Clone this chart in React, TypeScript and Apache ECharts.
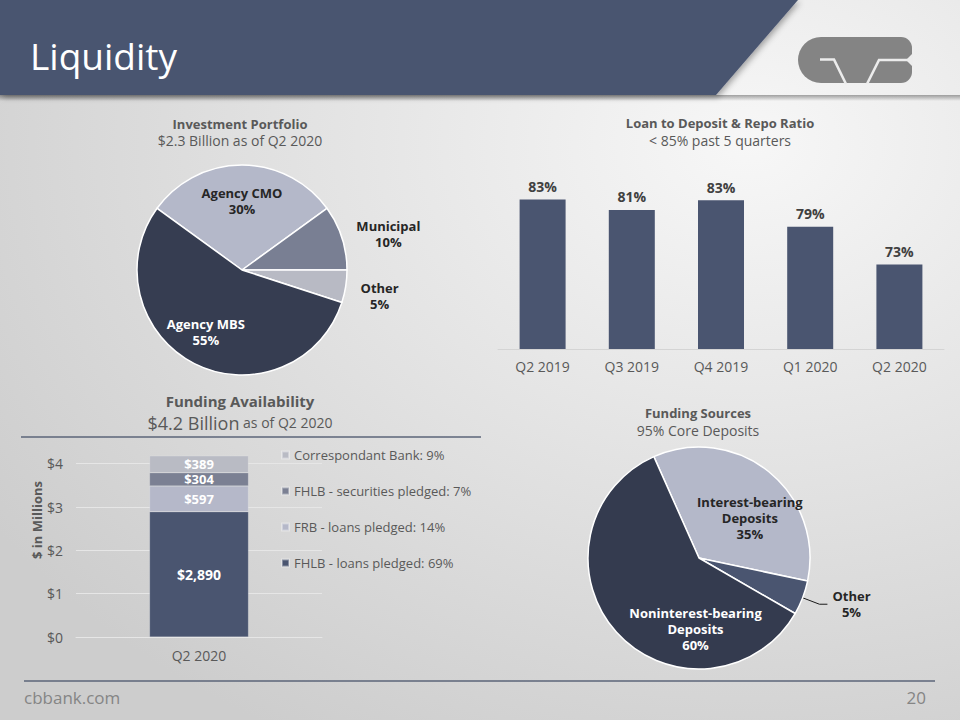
import React, { useEffect, useRef } from 'react';
import * as echarts from 'echarts';

// ---------- data ----------
const portfolioNames = ['Agency CMO', 'Municipal', 'Other', 'Agency MBS'];
const portfolioValues = [30, 10, 5, 55];

const ratioCategories = ['Q2 2019', 'Q3 2019', 'Q4 2019', 'Q1 2020', 'Q2 2020'];
const ratioValues = [83.0, 81.4, 82.9, 78.8, 73.0];

const fundingCategories = ['Q2 2020'];
const fundingNames = ['FHLB - loans pledged', 'FRB - loans pledged', 'FHLB - securities pledged', 'Correspondant Bank'];
const fundingValues = [2890, 597, 304, 389];

const sourcesNames = ['Interest-bearing\nDeposits', 'Other', 'Noninterest-bearing\nDeposits'];
const sourcesValues = [35, 5, 60];

// ---------- style ----------
const FONT = 'Open Sans';
const GRAY = '#595959';
const DARK = '#262626';
const portfolioColors = ['#b4b8c9', '#797f93', '#b8bac4', '#363d51'];
const fundingColors = ['#4a5570', '#b5b8c9', '#7b8093', '#b9bbc4'];
const sourcesColors = ['#b4b8c9', '#4a5570', '#343b4f'];

const richLines = (text: string) =>
  text
    .split('\n')
    .map((l) => `{a|${l}}`)
    .join('\n');

export default function App() {
  const ref = useRef<HTMLDivElement>(null);

  useEffect(() => {
    if (!ref.current) return;
    const chart = echarts.init(ref.current, null, { renderer: 'svg' });

    const total = fundingValues.reduce((a, b) => a + b, 0);
    const legendName = (i: number) => `${fundingNames[i]}: ${Math.round((fundingValues[i] / total) * 100)}%`;

    const fundingSeries = fundingNames.map((n, i) => ({
      type: 'bar',
      name: legendName(i),
      stack: 'funding',
      xAxisIndex: 1,
      yAxisIndex: 1,
      barWidth: 99,
      data: [fundingValues[i]],
      itemStyle: { color: fundingColors[i], borderColor: 'rgba(255,255,255,0.35)', borderWidth: 0.5 },
      label: {
        show: true,
        position: 'inside',
        color: '#ffffff',
        fontFamily: FONT,
        fontWeight: 'bold',
        fontSize: i === 0 ? 14 : 13,
        lineHeight: 12,
        formatter: (p: any) => '$' + Number(p.value).toLocaleString('en-US'),
      },
    }));

    const titleStyle = { fontFamily: FONT, fontSize: 13, fontWeight: 'bold', color: GRAY, lineHeight: 16 };
    const subStyle = { fontFamily: FONT, fontSize: 14, color: GRAY, lineHeight: 17 };

    const option: any = {
      animation: false,
      textStyle: { fontFamily: FONT },
      title: [
        {
          text: 'Investment Portfolio',
          subtext: '$2.3 Billion as of Q2 2020',
          left: 240,
          top: 116,
          textAlign: 'center',
          padding: 0,
          itemGap: 0,
          textStyle: titleStyle,
          subtextStyle: subStyle,
        },
        {
          text: 'Loan to Deposit & Repo Ratio',
          subtext: '< 85% past 5 quarters',
          left: 720,
          top: 115,
          textAlign: 'center',
          padding: 0,
          itemGap: 1,
          textStyle: titleStyle,
          subtextStyle: subStyle,
        },
        {
          text: 'Funding Availability',
          subtext: '{big|$4.2 Billion}{small| as of Q2 2020}',
          left: 240,
          top: 392,
          textAlign: 'center',
          padding: 0,
          itemGap: 2,
          textStyle: { fontFamily: FONT, fontSize: 15, fontWeight: 'bold', color: GRAY, lineHeight: 18 },
          subtextStyle: {
            fontFamily: FONT,
            color: GRAY,
            rich: {
              big: { fontFamily: FONT, fontSize: 18, color: GRAY, lineHeight: 21 },
              small: { fontFamily: FONT, fontSize: 14, color: GRAY, lineHeight: 21 },
            },
          },
        },
        {
          text: 'Funding Sources',
          subtext: '95% Core Deposits',
          left: 698,
          top: 405,
          textAlign: 'center',
          padding: 0,
          itemGap: 1,
          textStyle: titleStyle,
          subtextStyle: subStyle,
        },
      ],
      legend: {
        orient: 'vertical',
        left: 281,
        top: 448,
        padding: 0,
        itemWidth: 7,
        itemHeight: 7,
        itemGap: 22,
        icon: 'rect',
        data: [3, 2, 1, 0].map((i) => legendName(i)),
        textStyle: { fontFamily: FONT, fontSize: 13, color: GRAY, lineHeight: 14 },
      },
      grid: [
        { left: 498, right: 16, top: 186.5, bottom: 371 },
        { left: 76, right: 638, top: 455, bottom: 83 },
      ],
      xAxis: [
        {
          type: 'category',
          gridIndex: 0,
          data: ratioCategories,
          axisTick: { show: false },
          axisLine: { lineStyle: { color: '#d4d4d4', width: 1 } },
          axisLabel: { color: GRAY, fontFamily: FONT, fontSize: 14, margin: 10 },
        },
        {
          type: 'category',
          gridIndex: 1,
          data: fundingCategories,
          axisTick: { show: false },
          axisLine: { lineStyle: { color: '#e6e6e6', width: 1 } },
          axisLabel: { color: GRAY, fontFamily: FONT, fontSize: 14, margin: 11 },
        },
      ],
      yAxis: [
        { type: 'value', gridIndex: 0, min: 60, max: 85, show: false },
        {
          type: 'value',
          gridIndex: 1,
          min: 0,
          max: 4200,
          interval: 1000,
          axisLine: { show: false },
          axisTick: { show: false },
          splitLine: { show: true, showMaxLine: false, lineStyle: { color: '#e6e6e6', width: 1 } },
          axisLabel: {
            color: GRAY,
            fontFamily: FONT,
            fontSize: 14,
            margin: 13,
            showMaxLabel: false,
            formatter: (v: number) => '$' + v / 1000,
          },
        },
      ],
      series: [
        {
          type: 'pie',
          name: 'Investment Portfolio',
          center: [242, 270],
          radius: 105,
          startAngle: 144,
          clockwise: true,
          avoidLabelOverlap: false,
          itemStyle: { borderColor: '#ffffff', borderWidth: 1.5 },
          labelLine: { show: false, length: 10, length2: 0 },
          labelLayout: (p: any) => {
            if (p.dataIndex === 0) return { dy: -14 };
            if (p.dataIndex === 3) return { dx: -11, dy: 13 };
            if (p.dataIndex === 2) return { dy: 8 };
            return {};
          },
          data: portfolioNames.map((n, i) => {
            const inside = i === 0 || i === 3;
            return {
              name: n,
              value: portfolioValues[i],
              itemStyle: { color: portfolioColors[i] },
              label: {
                show: true,
                position: inside ? 'inside' : 'outside',
                formatter: (p: any) => richLines(`${p.name}\n${p.value}%`),
                rich: {
                  a: {
                    fontFamily: FONT,
                    fontSize: 13,
                    fontWeight: 'bold',
                    lineHeight: 16,
                    align: 'center',
                    color: i === 3 ? '#ffffff' : DARK,
                  },
                },
              },
            };
          }),
        },
        {
          type: 'bar',
          name: 'Loan to Deposit & Repo Ratio',
          xAxisIndex: 0,
          yAxisIndex: 0,
          barWidth: 46,
          data: ratioValues,
          itemStyle: { color: '#4a5570' },
          label: {
            show: true,
            position: 'top',
            distance: 6,
            color: '#404040',
            fontFamily: FONT,
            fontWeight: 'bold',
            fontSize: 14,
            formatter: (p: any) => Math.round(p.value) + '%',
          },
        },
        ...fundingSeries,
        {
          type: 'pie',
          name: 'Funding Sources',
          center: [699, 558],
          radius: 111,
          startAngle: 114,
          clockwise: true,
          avoidLabelOverlap: false,
          itemStyle: { borderColor: '#ffffff', borderWidth: 1.5 },
          labelLine: { show: true, length: 18, length2: 8, lineStyle: { color: '#1a1a1a', width: 1 } },
          labelLayout: (p: any) => {
            if (p.dataIndex === 0) return { dx: 14, dy: 5 };
            if (p.dataIndex === 2) return { dx: 40, dy: 32 };
            return {};
          },
          data: sourcesNames.map((n, i) => {
            const inside = i !== 1;
            return {
              name: n,
              value: sourcesValues[i],
              itemStyle: { color: sourcesColors[i] },
              label: {
                show: true,
                position: inside ? 'inside' : 'outside',
                formatter: (p: any) => richLines(`${p.name}\n${p.value}%`),
                rich: {
                  a: {
                    fontFamily: FONT,
                    fontSize: 13,
                    fontWeight: 'bold',
                    lineHeight: 16,
                    align: 'center',
                    color: i === 2 ? '#ffffff' : DARK,
                  },
                },
              },
            };
          }),
        },
      ],
      graphic: [
        {
          type: 'rect',
          z: -10,
          silent: true,
          shape: { x: 0, y: 0, width: 960, height: 720 },
          style: {
            fill: new echarts.graphic.RadialGradient(0.78, 0.2, 0.95, [
              { offset: 0, color: '#f7f7f7' },
              { offset: 1, color: '#cdcdcd' },
            ]),
          },
        },
        {
          type: 'rect',
          z: -9,
          silent: true,
          shape: { x: 0, y: 95, width: 960, height: 6 },
          style: {
            fill: new echarts.graphic.LinearGradient(0, 0, 0, 1, [
              { offset: 0, color: 'rgba(90,90,90,0.55)' },
              { offset: 1, color: 'rgba(90,90,90,0)' },
            ]),
          },
        },
        {
          type: 'polygon',
          z: -8,
          silent: true,
          shape: { points: [[0, 0], [798, 0], [716, 95], [0, 95]] },
          style: {
            fill: '#4a5570',
            shadowBlur: 6,
            shadowColor: 'rgba(0,0,0,0.35)',
            shadowOffsetX: 2,
            shadowOffsetY: 2,
          },
        },
        {
          type: 'text',
          x: 30,
          y: 55,
          silent: true,
          style: {
            text: 'Liquidity',
            fill: '#ffffff',
            fontFamily: FONT,
            fontSize: 37,
            verticalAlign: 'middle',
            align: 'left',
          },
        },
        // logo
        {
          type: 'rect',
          silent: true,
          shape: { x: 798, y: 37, width: 114, height: 46, r: [23, 11, 11, 23] },
          style: { fill: '#848484' },
        },
        {
          type: 'polyline',
          silent: true,
          shape: { points: [[820, 59.5], [834, 59.5], [846, 84]] },
          style: { stroke: '#ececec', lineWidth: 2.6, fill: null },
        },
        {
          type: 'polyline',
          silent: true,
          shape: { points: [[867, 84], [879, 60], [913, 60]] },
          style: { stroke: '#ececec', lineWidth: 2.6, fill: null },
        },
        {
          type: 'polygon',
          silent: true,
          shape: { points: [[913, 53], [906, 60], [913, 67]] },
          style: { fill: '#ececec' },
        },
        // funding availability underline
        {
          type: 'line',
          silent: true,
          shape: { x1: 21, y1: 437, x2: 481, y2: 437 },
          style: { stroke: '#5b6478', lineWidth: 1.5 },
        },
        {
          type: 'text',
          x: 37,
          y: 520,
          rotation: Math.PI / 2,
          silent: true,
          style: {
            text: '$ in Millions',
            fill: GRAY,
            fontFamily: FONT,
            fontSize: 13,
            fontWeight: 'bold',
            align: 'center',
            verticalAlign: 'middle',
          },
        },
        // footer
        {
          type: 'line',
          silent: true,
          shape: { x1: 24, y1: 681, x2: 935, y2: 681 },
          style: { stroke: '#5b6478', lineWidth: 1.5 },
        },
        {
          type: 'text',
          x: 24,
          y: 697,
          silent: true,
          style: {
            text: 'cbbank.com',
            fill: '#858585',
            fontFamily: FONT,
            fontSize: 17,
            align: 'left',
            verticalAlign: 'middle',
          },
        },
        {
          type: 'text',
          x: 926,
          y: 697,
          silent: true,
          style: {
            text: '20',
            fill: '#858585',
            fontFamily: FONT,
            fontSize: 17,
            align: 'right',
            verticalAlign: 'middle',
          },
        },
      ],
    };

    chart.setOption(option);
    return () => chart.dispose();
  }, []);

  return (
    <div
      ref={ref}
      style={{ position: 'absolute', left: 0, top: 0, width: 960, height: 720 }}
    />
  );
}
